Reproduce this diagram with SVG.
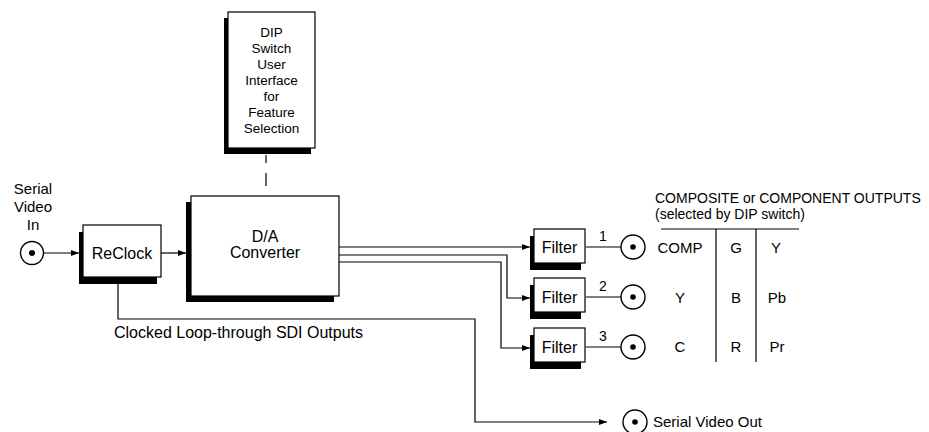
<svg xmlns="http://www.w3.org/2000/svg" width="929" height="432" viewBox="0 0 929 432">
<defs>
<marker id="ah" markerWidth="8" markerHeight="6" refX="8" refY="3" orient="auto" markerUnits="userSpaceOnUse">
<path d="M0,0 L8,3 L0,6 Z" fill="#000"/>
</marker>
<style>
text{font-family:"Liberation Sans",Arial,Helvetica,sans-serif;fill:#000}
.t16{font-size:16px}
.t15{font-size:15px}
.t14{font-size:14px}
.t13{font-size:13.5px}
.mid{text-anchor:middle}
.box{fill:#fff;stroke:#000;stroke-width:1.2}
.sh{fill:#000}
.ln{fill:none;stroke:#000;stroke-width:1.2}
.arr{fill:none;stroke:#000;stroke-width:1.2;marker-end:url(#ah)}
.jack{fill:#fff;stroke:#000;stroke-width:1.4}
</style>
</defs>
<rect width="929" height="432" fill="#fff"/>

<g id="connectors">
<path class="arr" d="M44,253 H79"/>
<path class="arr" d="M161,253 H186"/>
<path class="ln" d="M266,155 V163 M266,173 V186"/>
<path class="arr" d="M339,247 H530"/>
<path class="arr" d="M339,255 H507 V298 H530"/>
<path class="arr" d="M339,262 H501 V348 H530"/>
<path class="ln" d="M586,247 H621"/>
<path class="ln" d="M586,297 H621"/>
<path class="ln" d="M586,347 H621"/>
<path class="arr" d="M118,277 V319 H475 V422 H607"/>
</g>

<g id="serial-in">
<text class="t15 mid" x="33" y="194">Serial</text>
<text class="t15 mid" x="33" y="212">Video</text>
<text class="t15 mid" x="33" y="230">In</text>
<circle class="jack" cx="32" cy="253" r="11.5"/>
<circle cx="32" cy="253" r="3" fill="#000"/>
</g>

<g id="reclock">
<rect class="sh" x="79" y="232" width="78" height="52"/>
<rect class="box" x="83" y="225" width="78" height="52"/>
<text class="t16 mid" x="122" y="259">ReClock</text>
</g>

<g id="da-converter">
<rect class="sh" x="186" y="202" width="148" height="100"/>
<rect class="box" x="191" y="196" width="148" height="100"/>
<text class="t16 mid" x="265" y="242">D/A</text>
<text class="t16 mid" x="265" y="258">Converter</text>
</g>

<g id="dip-switch">
<rect class="sh" x="224" y="18" width="87" height="136"/>
<rect class="box" x="228" y="12" width="87" height="136"/>
<text class="t13 mid" x="271.5" y="37">DIP</text>
<text class="t13 mid" x="271.5" y="53">Switch</text>
<text class="t13 mid" x="271.5" y="69">User</text>
<text class="t13 mid" x="271.5" y="85">Interface</text>
<text class="t13 mid" x="271.5" y="101">for</text>
<text class="t13 mid" x="271.5" y="117">Feature</text>
<text class="t13 mid" x="271.5" y="133">Selection</text>
</g>

<g id="filter1">
<rect class="sh" x="530" y="236" width="51" height="34"/>
<rect class="box" x="534" y="229" width="51" height="34"/>
<text class="t16 mid" x="559.5" y="253">Filter</text>
</g>
<g id="filter2">
<rect class="sh" x="530" y="285" width="51" height="34"/>
<rect class="box" x="534" y="278" width="51" height="34"/>
<text class="t16 mid" x="559.5" y="303">Filter</text>
</g>
<g id="filter3">
<rect class="sh" x="530" y="335" width="51" height="34"/>
<rect class="box" x="534" y="328" width="51" height="34"/>
<text class="t16 mid" x="559.5" y="353">Filter</text>
</g>

<g id="out-labels">
<text class="t14 mid" x="603" y="241">1</text>
<text class="t14 mid" x="603" y="291">2</text>
<text class="t14 mid" x="603" y="341">3</text>
</g>

<g id="out1">
<circle class="jack" cx="633" cy="247" r="12"/>
<circle cx="633" cy="247" r="2.8" fill="#000"/>
</g>
<g id="out2">
<circle class="jack" cx="633" cy="297" r="12"/>
<circle cx="633" cy="297" r="2.8" fill="#000"/>
</g>
<g id="out3">
<circle class="jack" cx="633" cy="347" r="12"/>
<circle cx="633" cy="347" r="2.8" fill="#000"/>
</g>

<g id="output-table">
<text class="t14" x="655" y="203">COMPOSITE or COMPONENT OUTPUTS</text>
<text class="t14" x="655" y="219">(selected by DIP switch)</text>
<path class="ln" d="M661,229 H799 M716,229 V362 M756,229 V362"/>
<text class="t15 mid" x="680" y="253">COMP</text>
<text class="t15 mid" x="680" y="303">Y</text>
<text class="t15 mid" x="680" y="352">C</text>
<text class="t15 mid" x="736" y="253">G</text>
<text class="t15 mid" x="736" y="303">B</text>
<text class="t15 mid" x="736" y="352">R</text>
<text class="t15 mid" x="776" y="253">Y</text>
<text class="t15 mid" x="777" y="303">Pb</text>
<text class="t15 mid" x="777" y="352">Pr</text>
</g>

<g id="loop-label">
<text class="t16" x="114" y="338">Clocked Loop-through SDI Outputs</text>
</g>

<g id="serial-out">
<circle class="jack" cx="635" cy="422" r="12"/>
<circle cx="635" cy="422" r="2.8" fill="#000"/>
<text class="t15" x="653" y="427">Serial Video Out</text>
</g>
</svg>
